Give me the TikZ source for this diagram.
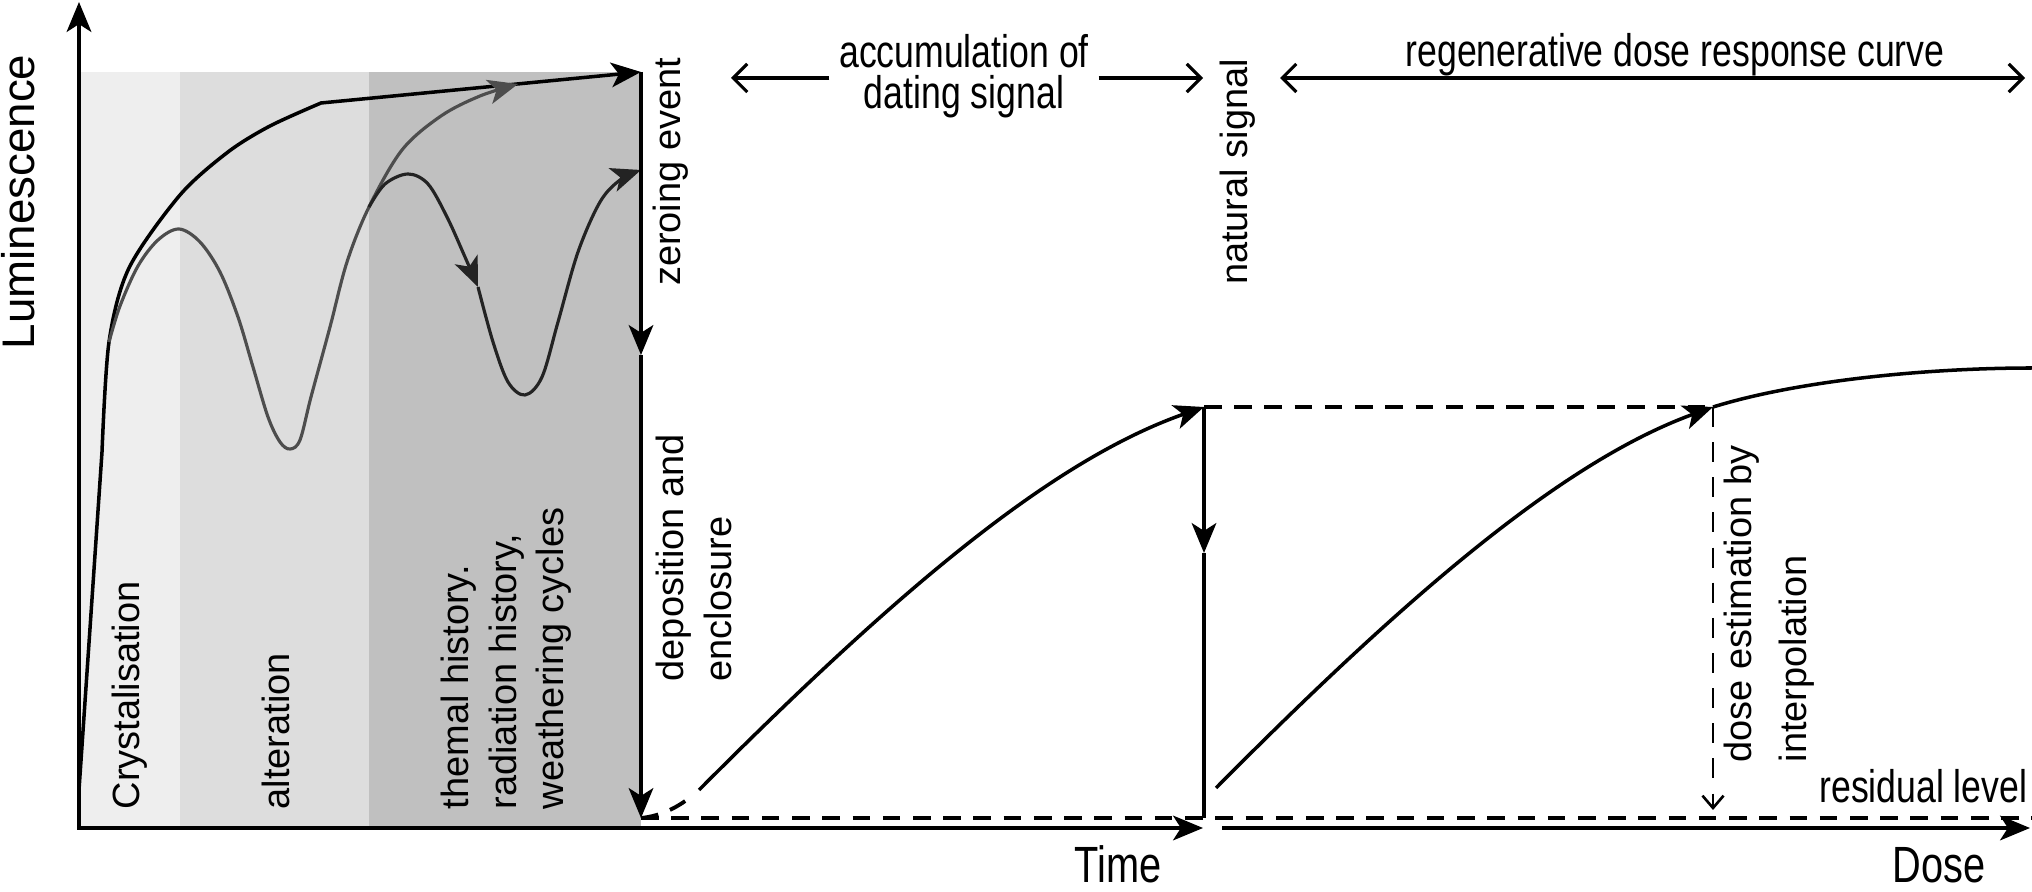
\documentclass[tikz,border=0pt]{standalone}
\usepackage{fontspec}
\setmainfont{Liberation Sans}
\newfontfamily\condfont[FakeStretch=0.78]{Liberation Sans}
\usetikzlibrary{%
  arrows.meta,% Stealth and Straight Barb tips
  positioning%
}
\definecolor{bandA}{HTML}{EEEEEE}
\definecolor{bandB}{HTML}{DDDDDD}
\definecolor{bandC}{HTML}{C0C0C0}
\definecolor{graycurve}{HTML}{4D4D4D}
\definecolor{darkcurve}{HTML}{232323}

\begin{document}
\begin{tikzpicture}[
    >={Stealth[length=8.5pt,width=7pt,inset=2.2pt]},
    axis/.style={line width=1.1pt},
    curve/.style={line width=1pt},
    dashline/.style={line width=1.1pt, dash pattern=on 5pt off 3.6pt},
    barbto/.style={line width=0.9pt, -{Straight Barb[length=4pt,width=8pt]}},
    barbboth/.style={line width=0.9pt, {Straight Barb[length=4pt,width=8pt]}-{Straight Barb[length=4pt,width=8pt]}},
    vlabel/.style={rotate=90, inner sep=0pt, font=\fontsize{10.8}{13.6}\selectfont},
    hlabel/.style={inner sep=0pt, font=\condfont\fontsize{13}{11.6}\selectfont}
  ]
  \useasboundingbox (0,0) rectangle (20.32,8.92);

  \coordinate (orig) at (0.79,0.64);
  \coordinate (ytop) at (0.79,8.90);
  \coordinate (tend) at (12.03,0.64);
  \coordinate (dstart) at (12.22,0.64);
  \coordinate (dend) at (20.30,0.64);
  \coordinate (ztop) at (6.41,8.20);
  \coordinate (zmid) at (6.41,5.37);
  \coordinate (zbot) at (6.41,0.74);
  \coordinate (ntop) at (12.04,4.85);
  \coordinate (nmid) at (12.04,3.39);
  \coordinate (nbot) at (12.04,0.74);
  \coordinate (etop) at (17.13,4.85);
  \coordinate (ebot) at (17.13,0.82);
  \coordinate (resend) at (20.32,0.74);
  \coordinate (crys) at (0.79,1.02);
  \coordinate (accA) at (6.99,1.02);
  \coordinate (accB) at (6.93,0.97);
  \coordinate (doseA) at (12.16,1.04);
  \coordinate (doseEnd) at (20.32,5.24);
  \coordinate (turn) at (4.78,6.05);

  % periods before deposition
  \fill[bandA] (orig) rectangle (1.80,8.20);
  \fill[bandB] (1.80,0.64) rectangle (3.69,8.20);
  \fill[bandC] (3.69,0.64) rectangle (ztop);

  % axes
  \draw[axis,<->] (ytop) -- (orig) -- (tend);
  \draw[axis,->] (dstart) -- (dend);

  % history of the grain
  \draw[curve,->] (crys) -- plot[smooth,tension=0.5] coordinates {(1.02,4.4) (1.09,5.5) (1.29,6.24) (1.80,6.97) (2.28,7.40) (2.70,7.66) (3.21,7.89)} -- (ztop);
  \draw[curve,graycurve,line width=0.9pt,->] plot[smooth,tension=0.55] coordinates {(1.09,5.5) (1.20,5.86) (1.38,6.26) (1.58,6.52) (1.79,6.63) (2.0,6.5) (2.2,6.2) (2.38,5.75) (2.53,5.25) (2.68,4.75) (2.80,4.50) (2.90,4.43) (3.00,4.52) (3.11,4.95) (3.30,5.65) (3.47,6.3) (3.69,6.85) (4.02,7.42) (4.41,7.76) (4.80,7.96) (5.18,8.08)};
  \draw[curve,darkcurve,line width=0.9pt,->] plot[smooth,tension=0.55] coordinates {(3.69,6.85) (3.85,7.08) (4.08,7.18) (4.28,7.08) (4.47,6.75) (4.65,6.35) (turn)};
  \draw[curve,darkcurve,line width=0.9pt,->] plot[smooth,tension=0.55] coordinates {(turn) (4.93,5.5) (5.08,5.1) (5.25,4.97) (5.42,5.15) (5.58,5.7) (5.78,6.4) (6.0,6.9) (6.2,7.12) (6.41,7.22)};

  % zeroing and natural signal
  \draw[curve,->] (ztop) -- (zmid);
  \draw[curve,->] (zmid) -- (zbot);
  \draw[curve,->] (ntop) -- (nmid);
  \draw[curve] (nmid) -- (nbot);

  % dashed levels
  \draw[dashline] (zbot) -- (resend);
  \draw[dashline] (ntop) -- (etop);
  \draw[dashline] (zbot) .. controls (6.62,0.76) and (6.80,0.86) .. (accB);
  \draw[line width=0.75pt, dash pattern=on 5.7pt off 4.3pt, -{Straight Barb[length=3.5pt,width=6pt]}] (etop) -- (ebot);

  % growth curves
  \draw[curve,->] (accA) .. controls (9.06,3.1) and (10.56,4.33) .. (ntop);
  \draw[curve,->] (doseA) .. controls (14.2,3.1) and (15.7,4.33) .. (etop);
  \draw[curve] (etop) .. controls (18.0,5.12) and (19.3,5.24) .. (doseEnd);

  % labels
  \node[vlabel, anchor=base, font=\fontsize{13}{15}\selectfont] (lum) at (0.34,6.90) {Luminescence};
  \node[vlabel, anchor=base west] (cry) at (1.40,0.82) {Crystalisation};
  \node[vlabel, anchor=base west] (alt) at (2.89,0.82) {alteration};
  \node[vlabel, anchor=north west, align=left] (hist) at (4.40,0.82) {themal history.\\radiation history,\\weathering cycles};
  \node[vlabel, anchor=base] (zero) at (6.80,7.20) {zeroing event};
  \node[vlabel, anchor=north west, align=left] (dep) at (6.55,2.10) {deposition and\\enclosure};
  \node[vlabel, anchor=base] (nat) at (12.47,7.20) {natural signal};
  \node[vlabel, anchor=north west, align=left] (est) at (17.23,1.29) {dose estimation by\\[2pt]interpolation};

  \coordinate (accL) at (7.31,8.14);
  \coordinate (accR) at (12.03,8.14);
  \node[hlabel, inner sep=2.6pt, align=center] (acc) at (9.64,8.16) {accumulation of\\dating signal};
  \draw[barbto] (acc.west |- accL) -- (accL);
  \draw[barbto] (acc.east |- accR) -- (accR);

  \coordinate (regL) at (12.80,8.14);
  \coordinate (regR) at (20.25,8.14);
  \node[hlabel, anchor=base] (regen) at (16.75,8.25) {regenerative dose response curve};
  \draw[barbboth] (regL) -- (regR);

  \node[hlabel, anchor=base east] (res) at (20.28,0.89) {residual level};
  \node[hlabel, anchor=base, font=\condfont\fontsize{14.5}{17}\selectfont] (time) at (11.18,0.09) {Time};
  \node[hlabel, anchor=base, font=\condfont\fontsize{14.5}{17}\selectfont] (dose) at (19.39,0.09) {Dose};
\end{tikzpicture}
\end{document}
